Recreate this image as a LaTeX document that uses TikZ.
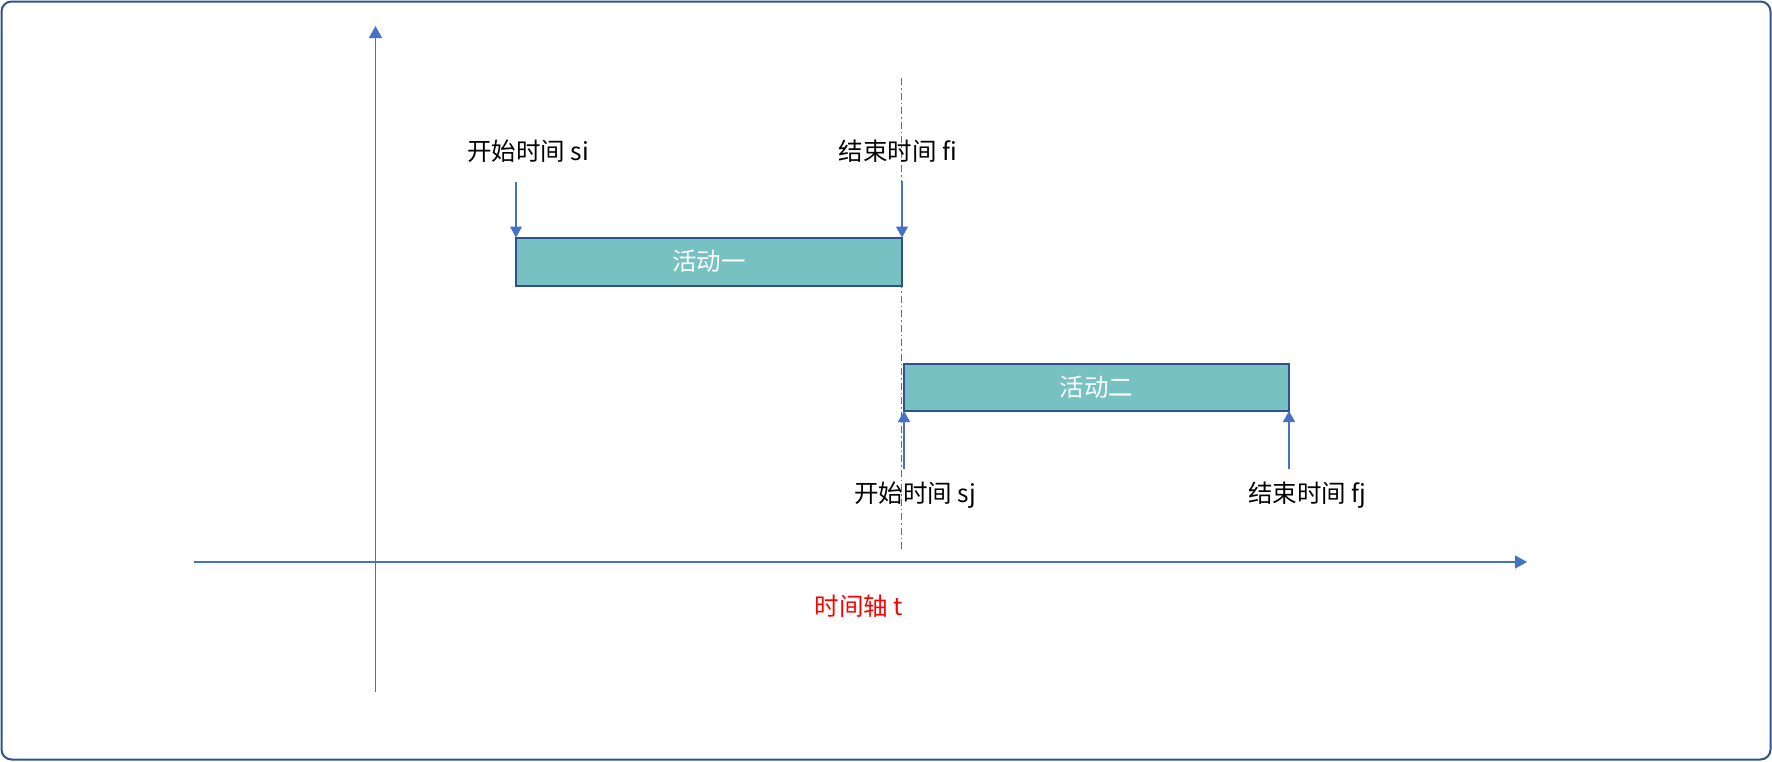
\documentclass[tikz,border=0pt]{standalone}
\usepackage{fontspec}
\setmainfont{Noto Sans CJK SC}
\usetikzlibrary{arrows.meta}
\definecolor{axisblue}{HTML}{4472C4}
\definecolor{frameblue}{HTML}{2F528F}
\definecolor{boxfill}{HTML}{77C1C3}
\tikzset{
  lbl/.style={font=\fontsize{24.5}{28}\selectfont, inner sep=0pt},
  actbox/.style={draw=frameblue, line width=2pt, fill=boxfill, text=white, inner sep=0pt, outer sep=0pt, font=\fontsize{24.5}{28}\selectfont},
  ptr/.style={draw=axisblue, line width=1.2pt, -{Triangle[width=12pt,length=11pt]}},
  axis/.style={draw=axisblue, line width=1.4pt, -{Triangle[width=13pt,length=12pt]}},
}
\begin{document}
\begin{tikzpicture}[x=1pt,y=-1pt]
\useasboundingbox (0,0) rectangle (1772,761);
\draw[frameblue, line width=2pt, rounded corners=10pt] (1.5,1.5) rectangle (1770.5,759.5);
% axes
\coordinate (ybot) at (375.5,692);
\coordinate (ytop) at (375.5,26);
\coordinate (xleft) at (194,562);
\coordinate (xright) at (1527,562);
\draw[axis] (ybot) -- (ytop);
\draw[axis] (xleft) -- (xright);
% dash-dot line
\coordinate (dtop) at (901,78);
\coordinate (dbot) at (901,551);
\draw[axisblue, line width=0.9pt, dash pattern=on 7pt off 3pt on 1.5pt off 3pt] (dtop) -- (dbot);
% boxes
\node[actbox, minimum width=386pt, minimum height=48pt] (b1) at (709,261.5) {活动一};
\node[actbox, minimum width=385pt, minimum height=47pt] (b2) at (1096.5,387.5) {活动二};
% labels
\node[lbl] (si) at (528,151) {开始时间 si};
\node[lbl] (fi) at (898,151) {结束时间 fi};
\node[lbl] (sj) at (915,495) {开始时间 sj};
\node[lbl] (fj) at (1307,495) {结束时间 fj};
\node[lbl, text=red] (tt) at (859,606) {时间轴 t};
% pointers
\coordinate (sis) at (516,182);
\coordinate (fis) at (902,181);
\coordinate (sjs) at (904,469);
\coordinate (fjs) at (1289,469);
\draw[ptr] (sis) -- (b1.north west);
\draw[ptr] (fis) -- (b1.north east);
\draw[ptr] (sjs) -- (b2.south west);
\draw[ptr] (fjs) -- (b2.south east);
\end{tikzpicture}
\end{document}
